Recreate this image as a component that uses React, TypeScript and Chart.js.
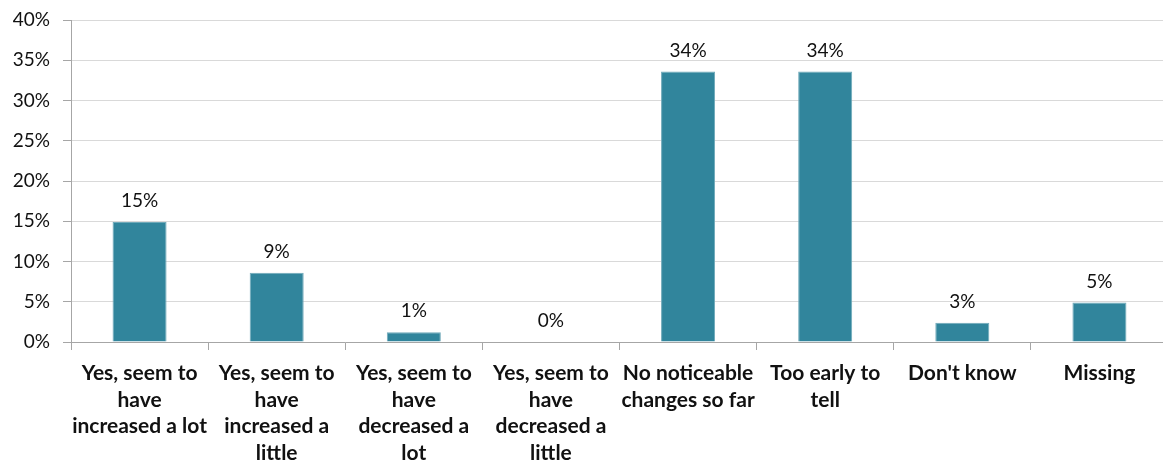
import React, { useEffect, useRef } from "react";
import { Chart, registerables } from "chart.js";

Chart.register(...registerables);

const categories: string[][] = [
  ["Yes, seem to", "have", "increased a lot"],
  ["Yes, seem to", "have", "increased a", "little"],
  ["Yes, seem to", "have", "decreased a", "lot"],
  ["Yes, seem to", "have", "decreased a", "little"],
  ["No noticeable", "changes so far"],
  ["Too early to", "tell"],
  ["Don't know"],
  ["Missing"],
];
const values: number[] = [14.9, 8.6, 1.2, 0, 33.6, 33.6, 2.4, 4.9];
const valueLabels: string[] = ["15%", "9%", "1%", "0%", "34%", "34%", "3%", "5%"];
const yTicks: number[] = [0, 5, 10, 15, 20, 25, 30, 35, 40];

const FONT = "Lato, 'Open Sans', sans-serif";

const dataLabelPlugin = {
  id: "dataLabelPlugin",
  afterDatasetsDraw(chart: any) {
    const ctx = chart.ctx;
    const meta = chart.getDatasetMeta(0);
    ctx.save();
    ctx.font = `19px ${FONT}`;
    ctx.fillStyle = "#111";
    ctx.textAlign = "center";
    ctx.textBaseline = "middle";
    meta.data.forEach((el: any, i: number) => {
      ctx.fillText(valueLabels[i], el.x, el.y - 21);
    });
    ctx.restore();
  },
};

export default function App() {
  const ref = useRef<HTMLCanvasElement>(null);
  useEffect(() => {
    document.body.style.margin = "0";
    const chart = new Chart(ref.current!, {
      type: "bar",
      data: {
        labels: categories,
        datasets: [
          {
            data: values,
            backgroundColor: "#31859C",
            borderColor: "#6fa9b9",
            borderWidth: 1,
            categoryPercentage: 1,
            barPercentage: 0.394,
          },
        ],
      },
      options: {
        responsive: false,
        animation: false,
        layout: { padding: { top: 20, right: 0, left: 0, bottom: 0 } },
        plugins: { legend: { display: false }, tooltip: { enabled: false } },
        scales: {
          x: {
            offset: true,
            grid: {
              offset: true,
              drawOnChartArea: false,
              drawTicks: true,
              tickLength: 8,
              tickColor: "#a6a6a6",
            },
            border: { color: "#a6a6a6", width: 1 },
            ticks: {
              color: "#111",
              font: { family: FONT, size: 21, weight: "bold", lineHeight: 1.27 },
              padding: 10,
              maxRotation: 0,
              autoSkip: false,
            },
            afterFit(scale: any) {
              scale.height = 120;
            },
          },
          y: {
            min: 0,
            max: 40,
            afterBuildTicks(scale: any) {
              scale.ticks = yTicks.map((v) => ({ value: v }));
            },
            grid: {
              color: "#d9d9d9",
              lineWidth: 1,
              drawTicks: true,
              tickLength: 8,
              tickColor: "#a6a6a6",
            },
            border: { color: "#a6a6a6", width: 1 },
            ticks: {
              color: "#111",
              font: { family: FONT, size: 19, lineHeight: 0.6 },
              padding: 13,
              callback: (v: any) => `${v}%`,
            },
            afterFit(scale: any) {
              scale.width = 71;
            },
          },
        },
      },
      plugins: [dataLabelPlugin],
    });
    return () => chart.destroy();
  }, []);
  return (
    <div
      style={{
        position: "fixed",
        left: 0,
        top: 0,
        width: 1163,
        height: 462,
        overflow: "hidden",
        background: "#fff",
      }}
    >
      <canvas ref={ref} width={1168} height={462} style={{ display: "block" }} />
    </div>
  );
}
